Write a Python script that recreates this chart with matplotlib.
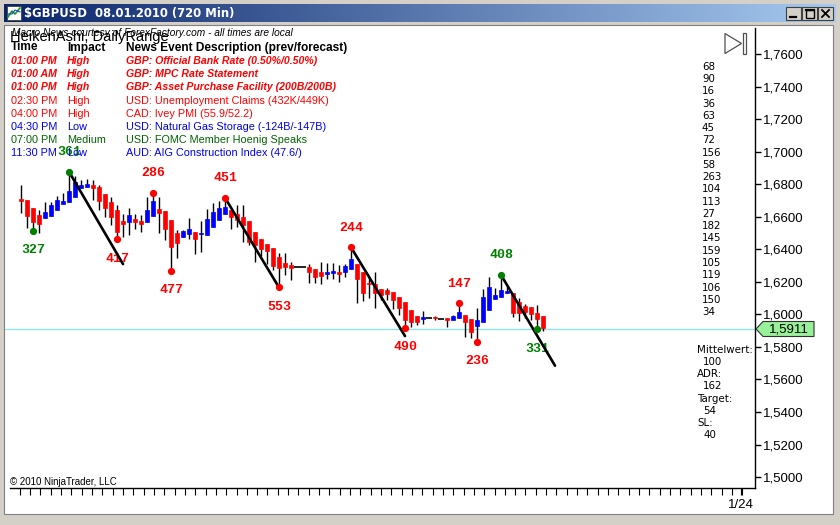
import numpy as np
import matplotlib
matplotlib.use("Agg")
import matplotlib.pyplot as plt
from matplotlib.patches import Rectangle, Polygon
from matplotlib.colors import LinearSegmentedColormap
from matplotlib.ticker import FuncFormatter, FixedLocator

# Heiken Ashi bars, $GBPUSD 720 min
ha_open = [1.6708, 1.6704, 1.6657, 1.6612, 1.6591, 1.6607, 1.6642, 1.6678, 1.6690, 1.6724,
           1.6776, 1.6786, 1.6796, 1.6782, 1.6741, 1.6693, 1.6642, 1.6575, 1.6567, 1.6587,
           1.6575, 1.6569, 1.6607, 1.6647, 1.6636, 1.6581, 1.6503, 1.6475, 1.6495, 1.6509,
           1.6492, 1.6489, 1.6540, 1.6581, 1.6618, 1.6642, 1.6618, 1.6598, 1.6575, 1.6509,
           1.6464, 1.6433, 1.6407, 1.6355, 1.6318, 1.6304, 1.6290, 1.6290, 1.6294, 1.6280,
           1.6259, 1.6247, 1.6255, 1.6261, 1.6259, 1.6278, 1.6310, 1.6263, 1.6195, 1.6185,
           1.6155, 1.6150, 1.6136, 1.6107, 1.6078, 1.6027, 1.5991, 1.5974, 1.5976, 1.5982,
           1.5972, 1.5976, 1.5966, 1.5980, 1.5997, 1.5972, 1.5931, 1.5952, 1.6027, 1.6095,
           1.6109, 1.6130, 1.6130, 1.6078, 1.6052, 1.6048, 1.6011, 1.5991]
ha_high = [1.6796, 1.6704, 1.6657, 1.6642, 1.6693, 1.6693, 1.6729, 1.6747, 1.6878, 1.6852,
           1.6827, 1.6833, 1.6827, 1.6796, 1.6741, 1.6724, 1.6673, 1.6616, 1.6653, 1.6618,
           1.6612, 1.6725, 1.6749, 1.6724, 1.6636, 1.6581, 1.6519, 1.6519, 1.6591, 1.6509,
           1.6575, 1.6647, 1.6684, 1.6700, 1.6718, 1.6642, 1.6673, 1.6673, 1.6575, 1.6509,
           1.6464, 1.6433, 1.6407, 1.6376, 1.6376, 1.6324, 1.6290, 1.6290, 1.6310, 1.6280,
           1.6324, 1.6318, 1.6318, 1.6304, 1.6309, 1.6413, 1.6310, 1.6263, 1.6232, 1.6263,
           1.6155, 1.6161, 1.6136, 1.6107, 1.6078, 1.6027, 1.5991, 1.6021, 1.5976, 1.5992,
           1.5972, 1.5976, 1.5997, 1.6069, 1.5997, 1.5972, 1.6038, 1.6155, 1.6232, 1.6161,
           1.6243, 1.6181, 1.6130, 1.6099, 1.6064, 1.6048, 1.6058, 1.5991]
ha_low = [1.6626, 1.6530, 1.6515, 1.6501, 1.6591, 1.6607, 1.6642, 1.6678, 1.6690, 1.6724,
          1.6776, 1.6786, 1.6704, 1.6642, 1.6601, 1.6550, 1.6464, 1.6478, 1.6489, 1.6526,
          1.6509, 1.6569, 1.6607, 1.6499, 1.6458, 1.6269, 1.6349, 1.6475, 1.6464, 1.6372,
          1.6386, 1.6489, 1.6540, 1.6581, 1.6618, 1.6524, 1.6540, 1.6447, 1.6427, 1.6324,
          1.6360, 1.6309, 1.6273, 1.6166, 1.6243, 1.6212, 1.6290, 1.6290, 1.6192, 1.6192,
          1.6185, 1.6216, 1.6216, 1.6201, 1.6232, 1.6278, 1.6069, 1.6083, 1.6101, 1.6040,
          1.6089, 1.6089, 1.6034, 1.5997, 1.5919, 1.5921, 1.5935, 1.5941, 1.5976, 1.5966,
          1.5972, 1.5925, 1.5966, 1.5980, 1.5863, 1.5853, 1.5832, 1.5952, 1.6027, 1.6095,
          1.6109, 1.6130, 1.5986, 1.5960, 1.5976, 1.5966, 1.5909, 1.5898]
ha_close = [1.6700, 1.6607, 1.6570, 1.6558, 1.6628, 1.6673, 1.6704, 1.6698, 1.6759, 1.6816,
            1.6796, 1.6802, 1.6776, 1.6700, 1.6653, 1.6601, 1.6509, 1.6554, 1.6612, 1.6567,
            1.6554, 1.6642, 1.6698, 1.6626, 1.6526, 1.6417, 1.6441, 1.6513, 1.6526, 1.6464,
            1.6498, 1.6587, 1.6632, 1.6657, 1.6659, 1.6598, 1.6581, 1.6550, 1.6447, 1.6427,
            1.6403, 1.6392, 1.6300, 1.6284, 1.6290, 1.6284, 1.6290, 1.6290, 1.6263, 1.6232,
            1.6238, 1.6263, 1.6267, 1.6251, 1.6298, 1.6341, 1.6216, 1.6134, 1.6185, 1.6134,
            1.6118, 1.6126, 1.6087, 1.6040, 1.5966, 1.5952, 1.5954, 1.5986, 1.5976, 1.5978,
            1.5972, 1.5964, 1.5991, 1.6017, 1.5952, 1.5890, 1.5966, 1.6106, 1.6167, 1.6120,
            1.6150, 1.6146, 1.6007, 1.6007, 1.6017, 1.6003, 1.5972, 1.5919]

# swing points with pip counts
swing_bar = [2, 8, 16, 22, 25, 34, 43, 55, 64, 73, 76, 80, 86]
swing_side = ["L", "H", "L", "H", "L", "H", "L", "H", "L", "H", "L", "H", "L"]
swing_label = ["327", "361", "417", "286", "477", "451", "553", "244", "490", "147", "236", "408", "331"]
swing_color = ["#008000", "#008000", "red", "red", "red", "red", "red", "red", "red", "red", "red",
               "#008000", "#008000"]

# drawn trend lines (bar, price)
trend_x0 = [8, 34, 55, 80]
trend_y0 = [1.6878, 1.6718, 1.6413, 1.6243]
trend_x1 = [17, 43, 64, 89]
trend_y1 = [1.6310, 1.6166, 1.5867, 1.5685]

last_price = 1.5911

# news box
news_time = ["01:00 PM", "01:00 AM", "01:00 PM", "02:30 PM", "04:00 PM", "04:30 PM", "07:00 PM", "11:30 PM"]
news_impact = ["High", "High", "High", "High", "High", "Low", "Medium", "Low"]
news_desc = ["GBP: Official Bank Rate (0.50%/0.50%)",
             "GBP: MPC Rate Statement",
             "GBP: Asset Purchase Facility (200B/200B)",
             "USD: Unemployment Claims (432K/449K)",
             "CAD: Ivey PMI (55.9/52.2)",
             "USD: Natural Gas Storage (-124B/-147B)",
             "USD: FOMC Member Hoenig Speaks",
             "AUD: AIG Construction Index (47.6/)"]
news_color = ["red", "red", "red", "red", "red", "#0000ee", "#006400", "#0000ee"]
news_strong = [True, True, True, False, False, False, False, False]

# daily range column
daily_ranges = [68, 90, 16, 36, 63, 45, 72, 156, 58, 263, 104, 113, 27, 182, 145, 159, 105, 119, 106, 150, 34]
stat_names = ["Mittelwert:", "ADR:", "Target:", "SL:"]
stat_values = [100, 162, 54, 40]

W, H = 840, 525
fig = plt.figure(figsize=(W / 100, H / 100), dpi=100)
fig.patch.set_facecolor("#d4d0c8")

# pixel overlay for window chrome
bg = fig.add_axes([0, 0, 1, 1], zorder=0)
bg.set_xlim(0, W)
bg.set_ylim(H, 0)
bg.axis("off")
bg.add_patch(Rectangle((4, 25), 829, 489, facecolor="white", edgecolor="#808080", lw=0.8))
grad = np.linspace(0, 1, 256).reshape(1, -1)
tb_cmap = LinearSegmentedColormap.from_list("tb", ["#0a246a", "#a6caf0"])
bg.imshow(grad, cmap=tb_cmap, extent=[4, 836, 22, 4], aspect="auto", zorder=1)
bg.add_patch(Rectangle((7, 6), 14, 14, facecolor="white", edgecolor="#404040", lw=0.6, zorder=2))
bg.plot([8, 12, 15, 20], [17, 11, 14, 8], color="#10a010", lw=1.2, zorder=3)
bg.plot([8, 12, 15, 20], [14, 14, 10, 12], color="#2040e0", lw=0.8, zorder=3)
bg.text(24, 13.5, "$GBPUSD  08.01.2010 (720 Min)", color="white", fontsize=8.4, fontweight="bold",
        family="DejaVu Sans", va="center", ha="left", zorder=3)
for bx in [786, 802, 818]:
    bg.add_patch(Rectangle((bx, 7), 15, 13, facecolor="#d4d0c8", edgecolor="#404040", lw=0.8, zorder=2))
# minimise / maximise / close glyphs
bg.plot([790, 796], [17, 17], color="black", lw=1.6, zorder=3)
bg.add_patch(Rectangle((805.5, 9.5), 8, 8, facecolor="none", edgecolor="black", lw=1.0, zorder=3))
bg.plot([805.5, 813.5], [10, 10], color="black", lw=1.6, zorder=3)
bg.plot([822, 829], [10, 17], color="black", lw=1.3, zorder=3)
bg.plot([822, 829], [17, 10], color="black", lw=1.3, zorder=3)

# main price axes
ax = fig.add_axes([5 / W, 1 - 488 / H, 750 / W, 460 / H], zorder=1)
ax.patch.set_alpha(0)
bars = np.arange(len(ha_open))
o = np.array(ha_open)
c = np.array(ha_close)
hi = np.array(ha_high)
lo = np.array(ha_low)

ax.axhline(last_price, color="#8ee6e6", lw=1.0, zorder=1)
ax.vlines(bars, lo, hi, color="black", lw=1.0, zorder=2)
doji = np.isclose(o, c)
up = (c > o) & ~doji
dn = (c < o) & ~doji
body = np.maximum(np.abs(c - o), 0.0005)
ax.bar(bars[up], body[up], bottom=np.minimum(o, c)[up], width=0.8, color="#0000ff",
       edgecolor="#0000ff", lw=0.5, zorder=3)
ax.bar(bars[dn], body[dn], bottom=np.minimum(o, c)[dn], width=0.8, color="#ff0000",
       edgecolor="#ff0000", lw=0.5, zorder=3)
ax.hlines(c[doji], bars[doji] - 0.5, bars[doji] + 0.5, color="black", lw=1.2, zorder=3)

for x0, y0, x1, y1 in zip(trend_x0, trend_y0, trend_x1, trend_y1):
    ax.plot([x0, x1], [y0, y1], color="black", lw=1.9, zorder=4, solid_capstyle="round")

for b, s, lab, col in zip(swing_bar, swing_side, swing_label, swing_color):
    price = hi[b] if s == "H" else lo[b]
    ax.plot(b, price, "o", ms=4.2, color=col, zorder=5)
    dy = 14.2 if s == "H" else -14.2
    ax.annotate(lab, (b, price), xytext=(0, dy), textcoords="offset points", ha="center", va="center",
                color=col, fontsize=9.5, fontweight="bold", family="Liberation Mono")

ax.set_xlim(-2.667, 122.33)
ax.set_ylim(1.49327, 1.77617)
for side in ["top", "left"]:
    ax.spines[side].set_visible(False)
ax.spines["right"].set_linewidth(1.0)
ax.spines["bottom"].set_linewidth(1.0)
ax.spines["bottom"].set_bounds(-1.8, 122.33)
ax.yaxis.tick_right()
ax.set_yticks(np.arange(1.50, 1.7601, 0.02))
ax.yaxis.set_major_formatter(FuncFormatter(lambda v, p: f"{v:.4f}".replace(".", ",")))
ax.tick_params(axis="y", direction="out", length=4, width=1, pad=2, labelsize=9.5)
ax.set_xticks([120])
ax.set_xticklabels(["1/24"])
ax.xaxis.set_minor_locator(FixedLocator(np.arange(-0.2, 121, 1.72)))
ax.tick_params(axis="x", which="both", direction="out", length=5, width=0.8, pad=3, labelsize=9.5)
for t in ax.get_yticklabels() + ax.get_xticklabels():
    t.set_family("Liberation Sans")

# overlay for chart texts
top = fig.add_axes([0, 0, 1, 1], zorder=3)
top.set_xlim(0, W)
top.set_ylim(H, 0)
top.axis("off")
top.patch.set_alpha(0)

top.text(12, 33, "Macro News courtesy of ForexFactory.com - all times are local", fontsize=7.3,
         style="italic", family="Liberation Sans", va="center")
top.text(10, 37, "HeikenAshi, DailyRange", fontsize=10.5, family="Liberation Sans", va="center",
         fontweight="light")
top.text(11, 47.5, "Time", fontsize=8.6, fontweight="bold", family="Liberation Sans", va="center")
top.text(67, 47.5, "Impact", fontsize=8.6, fontweight="bold", family="Liberation Sans", va="center")
top.text(126, 47.5, "News Event Description (prev/forecast)", fontsize=8.6, fontweight="bold",
         family="Liberation Sans", va="center")
for i, (tm, imp, desc, col, strong) in enumerate(zip(news_time, news_impact, news_desc, news_color, news_strong)):
    y = 61.3 + i * 13.1
    kw = dict(color=col, va="center", family="Liberation Sans", fontsize=7.8)
    if strong:
        kw.update(fontweight="bold", style="italic", fontsize=7.6)
    top.text(11, y, tm, **kw)
    top.text(67, y, imp, **kw)
    top.text(126, y, desc, **kw)

for i, v in enumerate(daily_ranges):
    top.text(702, 66.7 + i * 12.27, str(v), fontsize=7.4, family="DejaVu Sans", va="center")
for i, (nm, v) in enumerate(zip(stat_names, stat_values)):
    y = 350 + i * 24.4
    top.text(697, y, nm, fontsize=7.4, family="DejaVu Sans", va="center")
    top.text(703, y + 12, str(v), fontsize=7.4, family="DejaVu Sans", va="center")

top.text(10, 482, "© 2010 NinjaTrader, LLC", fontsize=7.0, family="Liberation Sans", va="center")

# jump-to-end button
top.add_patch(Polygon([(725, 33.5), (741.5, 43.5), (725, 53.5)], closed=True, facecolor="none",
                      edgecolor="#505050", lw=0.9))
top.add_patch(Rectangle((742.5, 32.5), 3.5, 21, facecolor="none", edgecolor="#505050", lw=0.9))

# last price marker
top.add_patch(Polygon([(756, 329), (763, 321.5), (814, 321.5), (814, 336.5), (763, 336.5)], closed=True,
                      facecolor="#98f098", edgecolor="#303030", lw=0.8))
top.text(789, 329, "1,5911", fontsize=9.5, family="Liberation Sans", va="center", ha="center")

fig.savefig("out.png", dpi=100)
